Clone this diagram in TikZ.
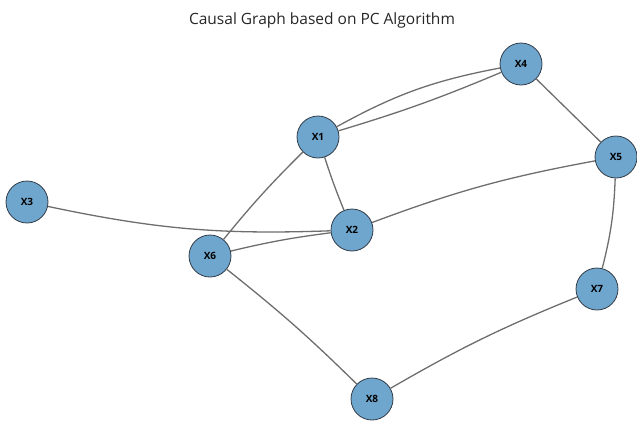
\documentclass[tikz,border=0pt]{standalone}
\usepackage{fontspec}
\setmainfont{Open Sans}
\definecolor{nodefill}{RGB}{111,166,206}
\definecolor{nodeborder}{RGB}{50,60,70}
\definecolor{edgecol}{RGB}{110,110,110}
\begin{document}
\begin{tikzpicture}[x=1pt,y=-1pt,
  var/.style={circle,draw=nodeborder,line width=0.8pt,fill=nodefill,minimum size=42pt,inner sep=0pt,font=\fontsize{10}{12}\selectfont\bfseries},
  edge/.style={draw=edgecol,line width=1.3pt}]
\useasboundingbox (0,0) rectangle (637,421);
\node[font=\fontsize{15.5}{18}\selectfont,text=black!85] (title) at (322,20) {Causal Graph based on PC Algorithm};
\node[var] (X1) at (318,137) {X1};
\node[var] (X4) at (521,64) {X4};
\node[var] (X5) at (616,157) {X5};
\node[var] (X3) at (27,202) {X3};
\node[var] (X2) at (352,230) {X2};
\node[var] (X6) at (210,256) {X6};
\node[var] (X7) at (597,289) {X7};
\node[var] (X8) at (372,399) {X8};
\draw[edge] (X1) to[bend left=9] (X4);
\draw[edge] (X1) to[bend right=3] (X4);
\draw[edge] (X4) -- (X5);
\draw[edge] (X1) to[bend right=2] (X2);
\draw[edge] (X6) to[bend left=3] (X1);
\draw[edge] (X2) to[bend left=5] (X5);
\draw[edge] (X3) to[bend right=7] (X2);
\draw[edge] (X6) to[bend left=3] (X2);
\draw[edge] (X6) to[bend left=3] (X8);
\draw[edge] (X8) to[bend left=4] (X7);
\draw[edge] (X5) to[bend left=6] (X7);
\end{tikzpicture}
\end{document}
